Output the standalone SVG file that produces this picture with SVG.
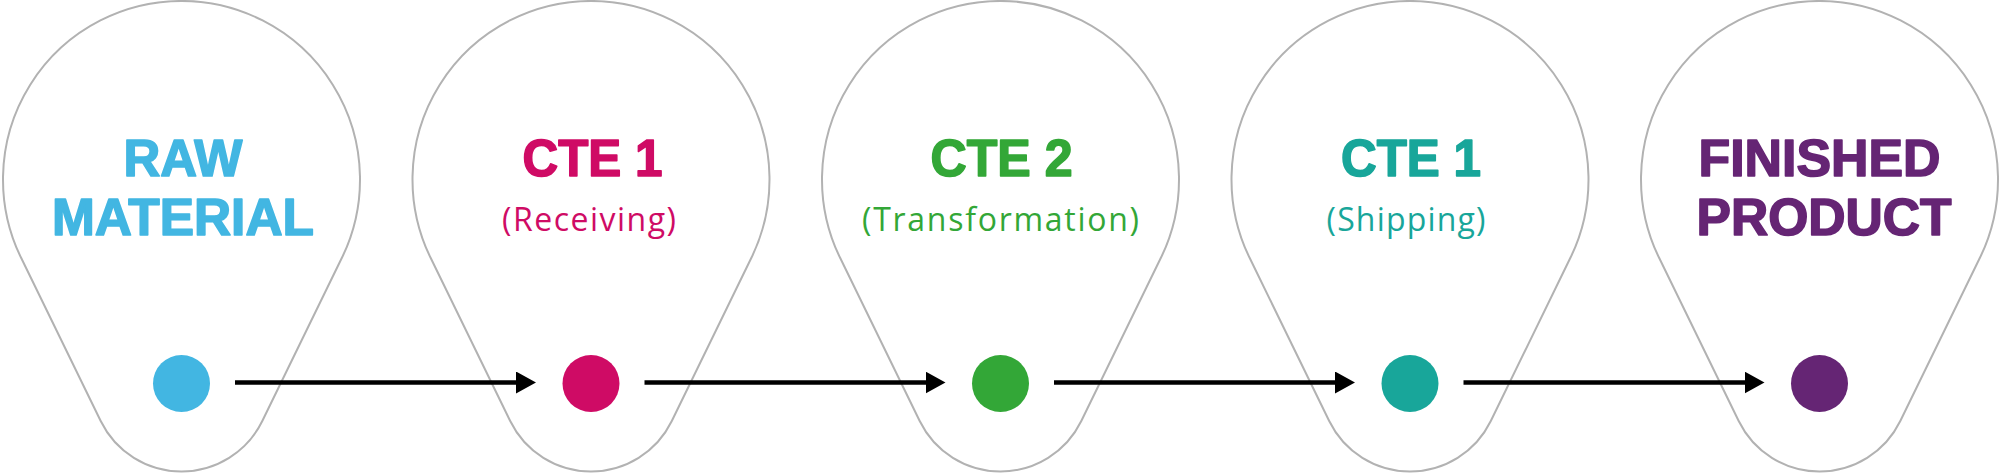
<svg xmlns="http://www.w3.org/2000/svg" width="2000" height="473" viewBox="0 0 2000 473">
  <style>
    .pin { fill: #ffffff; stroke: #b2b2b2; stroke-width: 2; }
    .title { font-family: "Liberation Sans", Arial, sans-serif; font-weight: 700; font-size: 52px; text-anchor: middle; stroke-width: 1.6; stroke-linejoin: round; }
    .sub { font-family: "Open Sans", Lato, sans-serif; font-weight: 400; font-size: 32px; text-anchor: middle; }
    .conn { stroke: #000000; stroke-width: 4.5; fill: none; }
    .blue { fill: #42b6e2; }
    .magenta { fill: #cf0b65; }
    .green { fill: #33a737; }
    .teal { fill: #18a69a; }
    .purple { fill: #652574; }
    .title.blue { stroke: #42b6e2; }
    .title.magenta { stroke: #cf0b65; }
    .title.green { stroke: #33a737; }
    .title.teal { stroke: #18a69a; }
    .title.purple { stroke: #652574; }
  </style>
  <defs>
    <path id="pinShape" d="M -160.4,257.8 A 178.5 178.5 0 1 1 160.4,257.8 L 80.8,421 A 89.9 89.9 0 0 1 -80.8,421 Z"/>
    <marker id="arrow" markerUnits="userSpaceOnUse" markerWidth="20" markerHeight="22" refX="10" refY="11" orient="auto">
      <path d="M0,0 L20,11 L0,22 Z" fill="#000000"/>
    </marker>
  </defs>
  <rect width="2000" height="473" fill="#ffffff"/>

  <g id="node-raw-material" transform="translate(181.5,0)">
    <use href="#pinShape" class="pin"/>
    <text class="title blue" x="1.5" y="176" textLength="119" lengthAdjust="spacingAndGlyphs">RAW</text>
    <text class="title blue" x="1.5" y="234.5" textLength="262" lengthAdjust="spacingAndGlyphs">MATERIAL</text>
    <circle class="blue" cx="0" cy="383.5" r="28.5"/>
  </g>

  <g id="node-cte1-receiving" transform="translate(591,0)">
    <use href="#pinShape" class="pin"/>
    <text class="title magenta" x="1.5" y="176" textLength="140" lengthAdjust="spacingAndGlyphs">CTE 1</text>
    <text class="sub magenta" x="-2" y="231" textLength="174" lengthAdjust="spacing">(Receiving)</text>
    <circle class="magenta" cx="0" cy="383.5" r="28.5"/>
  </g>

  <g id="node-cte2-transformation" transform="translate(1000.5,0)">
    <use href="#pinShape" class="pin"/>
    <text class="title green" x="1" y="176" textLength="142" lengthAdjust="spacingAndGlyphs">CTE 2</text>
    <text class="sub green" x="0" y="231" textLength="277" lengthAdjust="spacing">(Transformation)</text>
    <circle class="green" cx="0" cy="383.5" r="28.5"/>
  </g>

  <g id="node-cte1-shipping" transform="translate(1410,0)">
    <use href="#pinShape" class="pin"/>
    <text class="title teal" x="1" y="176" textLength="140" lengthAdjust="spacingAndGlyphs">CTE 1</text>
    <text class="sub teal" x="-4" y="231" textLength="159" lengthAdjust="spacing">(Shipping)</text>
    <circle class="teal" cx="0" cy="383.5" r="28.5"/>
  </g>

  <g id="node-finished-product" transform="translate(1819.5,0)">
    <use href="#pinShape" class="pin"/>
    <text class="title purple" x="0" y="176" textLength="242" lengthAdjust="spacingAndGlyphs">FINISHED</text>
    <text class="title purple" x="4.5" y="234.5" textLength="255" lengthAdjust="spacingAndGlyphs">PRODUCT</text>
    <circle class="purple" cx="0" cy="383.5" r="28.5"/>
  </g>

  <g id="connectors">
    <line class="conn" x1="235" y1="382.5" x2="526" y2="382.5" marker-end="url(#arrow)"/>
    <line class="conn" x1="644.5" y1="382.5" x2="935.5" y2="382.5" marker-end="url(#arrow)"/>
    <line class="conn" x1="1054" y1="382.5" x2="1345" y2="382.5" marker-end="url(#arrow)"/>
    <line class="conn" x1="1463.5" y1="382.5" x2="1754.5" y2="382.5" marker-end="url(#arrow)"/>
  </g>
</svg>
